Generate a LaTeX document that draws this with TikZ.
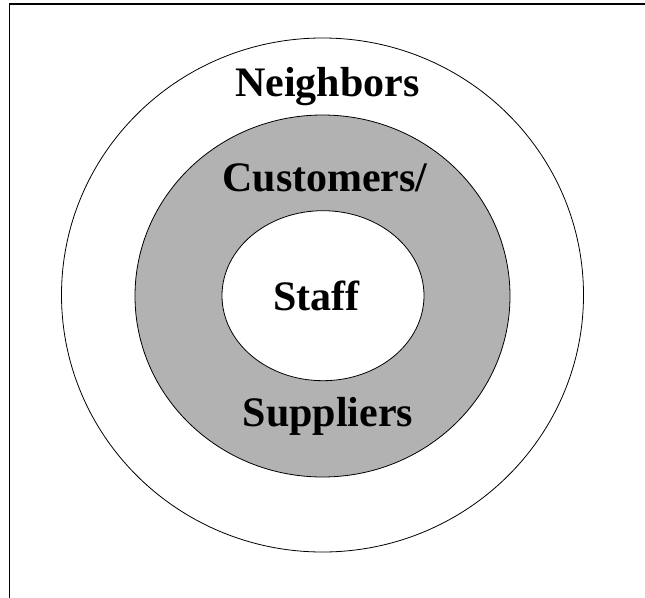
\documentclass[tikz,border=0pt]{standalone}
\usepackage{fontspec}
\setmainfont{Liberation Serif}
\usetikzlibrary{shapes.geometric}
\definecolor{ringgray}{RGB}{178,178,178}
\tikzset{
  ring/.style={draw=black, line width=0.8pt, ellipse, inner sep=0pt},
  lbl/.style={font=\fontsize{42}{46}\selectfont\bfseries, anchor=base, inner sep=0pt}
}
\begin{document}
\begin{tikzpicture}[x=1pt,y=-1pt]
\useasboundingbox (0,0) rectangle (645,597);
\fill[white] (0,0) rectangle (645,597);
\draw[line width=1.6pt] (9.5,600) -- (9.5,4) -- (650,4);
\node[ring, fill=white, minimum width=522pt, minimum height=514pt] (outer) at (322.5,295) {};
\node[ring, fill=ringgray, minimum width=375pt, minimum height=362pt] (middle) at (322.5,296) {};
\node[ring, fill=white, minimum width=202pt, minimum height=170pt] (inner) at (323,295.7) {};
\node[lbl] (neighbors) at (327.5,96) {Neighbors};
\node[lbl] (customers) at (325,191.7) {Customers/};
\node[lbl] (staff) at (316.5,310.7) {Staff};
\node[lbl] (suppliers) at (328,426.7) {Suppliers};
\end{tikzpicture}
\end{document}
